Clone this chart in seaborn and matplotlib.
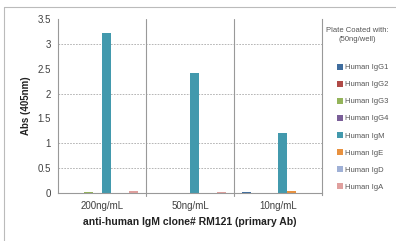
import matplotlib
matplotlib.use("Agg")
import matplotlib.pyplot as plt
import seaborn as sns
import pandas as pd
from matplotlib.lines import Line2D

categories = ["200ng/mL", "50ng/mL", "10ng/mL"]
series = ["Human IgG1", "Human IgG2", "Human IgG3", "Human IgG4",
          "Human IgM", "Human IgE", "Human IgD", "Human IgA"]
values = {
    "Human IgG1": [0.0, 0.0, 0.025],
    "Human IgG2": [0.0, 0.0, 0.0],
    "Human IgG3": [0.025, 0.0, 0.0],
    "Human IgG4": [0.0, 0.0, 0.0],
    "Human IgM": [3.22, 2.42, 1.20],
    "Human IgE": [0.0, 0.0, 0.035],
    "Human IgD": [0.0, 0.0, 0.0],
    "Human IgA": [0.04, 0.025, 0.0],
}
colors = ["#3f6d9e", "#b04a47", "#94b45a", "#7a5e98",
          "#4299ad", "#e8913f", "#9fb0d6", "#e0a09e"]
ytick_vals = [0, 0.5, 1, 1.5, 2, 2.5, 3, 3.5]
ytick_labels = ["0", "0.5", "1", "1.5", "2", "2.5", "3", "3.5"]
grid_levels = [0.5, 1, 2, 3]

rows = []
for s in series:
    for c, v in zip(categories, values[s]):
        rows.append({"conc": c, "series": s, "value": v})
df = pd.DataFrame(rows)

sns.set_style("white")
plt.rcParams["font.family"] = ["Liberation Sans", "DejaVu Sans"]

fig = plt.figure(figsize=(3.96, 2.41), dpi=100)
ax = fig.add_axes([58/396, 1-193/241, (322-58)/396, (193-19)/241])

sns.barplot(data=df, x="conc", y="value", hue="series", order=categories,
            hue_order=series, palette=colors, width=0.82, gap=0.05,
            ax=ax, legend=True, saturation=1, linewidth=0, edgecolor="none")

ax.set_xlim(-0.5, 2.5)
ax.set_ylim(0, 3.5)
ax.set_yticks(ytick_vals)
ax.set_yticklabels(ytick_labels, fontsize=7, color="#404040")
ax.tick_params(axis="y", length=3, color="#999999", pad=2)
ax.tick_params(axis="x", length=0, labelsize=7, pad=6, colors="#404040")

for g in grid_levels:
    ax.axhline(g, color="#aaaaaa", lw=0.6, ls=(0, (2, 1.5)), zorder=0)
for b in [0.5, 1.5]:
    ax.axvline(b, ymin=-0.02, ymax=1.0, color="#999999", lw=0.8, clip_on=False, zorder=0)

ax.spines["top"].set_visible(False)
for side in ["left", "bottom", "right"]:
    ax.spines[side].set_color("#999999")
    ax.spines[side].set_linewidth(0.8)
ax.spines["right"].set_bounds(-0.04, 3.5)

ax.set_xlabel("anti-human IgM clone# RM121 (primary Ab)", fontsize=7.5,
              fontweight="bold", labelpad=4, color="#222222")
ax.set_ylabel("Abs (405nm)", fontsize=7, fontweight="bold", labelpad=5, color="#222222")

handles, labels = ax.get_legend_handles_labels()
ax.get_legend().remove()
leg = fig.legend(handles, labels, loc="upper left", bbox_to_anchor=(337/396, 1-64/241),
                 frameon=False, fontsize=5.5, handlelength=0.75, handleheight=0.75,
                 handletextpad=0.35, labelspacing=1.25, labelcolor="#555555",
                 borderaxespad=0, borderpad=0)
fig.text(357/396, 1-35/241, "Plate Coated with:\n(50ng/well)", ha="center", va="center",
         fontsize=5.5, color="#555555", linespacing=1.3)

fig.add_artist(Line2D([4/396, 4/396], [0, 1-7/241], transform=fig.transFigure,
                      color="#bbbbbb", lw=0.8))
fig.add_artist(Line2D([4/396, 1], [1-7/241, 1-7/241], transform=fig.transFigure,
                      color="#bbbbbb", lw=0.8))

fig.savefig("out.png", dpi=100)
